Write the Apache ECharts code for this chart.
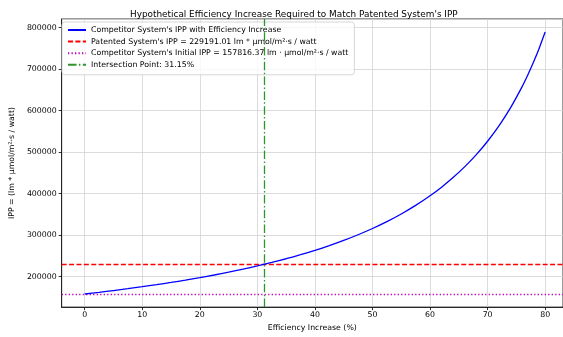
<!DOCTYPE html>
<html>
<head>
<meta charset="utf-8">
<script src="https://cdn.jsdelivr.net/npm/echarts@6/dist/echarts.min.js"></script>
<style>
  html, body { margin: 0; padding: 0; background: #fff; }
  #chart { width: 563px; height: 337px; }
</style>
</head>
<body>
<div id="chart"></div>
<script>
// efficiency increase (%) and the competitor IPP
const efficiency = [0, 2.5, 5, 7.5, 10, 12.5, 15, 17.5, 20, 22.5, 25, 27.5, 30, 32.5, 35, 37.5, 40, 42.5, 45, 47.5, 50, 52.5, 55, 57.5, 60, 62, 64, 66, 68, 70, 72, 74, 76, 77, 78, 79, 80]
const competitorIPP = [157816, 161863, 166123, 170612, 175352, 180362, 185666, 191293, 197270, 203634, 210422, 217678, 225452, 233802, 242794, 252506, 263027, 274463, 286939, 300603, 315633, 332245, 350703, 371333, 394541, 415306, 438379, 464166, 493176, 526055, 563630, 606986, 657568, 686158, 717347, 751507, 789082]
const patentedIPP = 229191.01
const initialIPP = 157816.37
const intersection = 31.15

const font = 'DejaVu Sans'
const chart = echarts.init(document.getElementById('chart'))

const option = {
  animation: false,
  textStyle: { fontFamily: font },
  title: {
    text: "Hypothetical Efficiency Increase Required to Match Patented System's IPP",
    left: 125,
    top: 5,
    textStyle: { fontFamily: font, fontSize: 8.9, fontWeight: 'normal', color: '#000' }
  },
  legend: {
    orient: 'vertical',
    left: 62,
    top: 22,
    padding: [4, 6, 6, 5],
    itemWidth: 18,
    itemHeight: 8,
    itemGap: 3.6,
    itemStyle: { opacity: 0 },
    backgroundColor: 'rgba(255,255,255,0.8)',
    borderColor: '#d6d6d6',
    borderWidth: 1,
    borderRadius: 3,
    textStyle: { fontFamily: font, fontSize: 7.8, color: '#000' },
    data: [
      "Competitor System's IPP with Efficiency Increase",
      "Patented System's IPP = 229191.01 lm * μmol/m²·s / watt",
      "Competitor System's Initial IPP = 157816.37 lm · μmol/m²·s / watt",
      'Intersection Point: 31.15%'
    ]
  },
  grid: { left: 60, right: 0, top: 19, bottom: 29, show: true, borderColor: '#000', borderWidth: 0.8 },
  xAxis: {
    type: 'value',
    min: -4,
    max: 83.1,
    minInterval: 10,
    maxInterval: 10,
    name: 'Efficiency Increase (%)',
    nameLocation: 'middle',
    nameGap: 15,
    nameTextStyle: { fontFamily: font, fontSize: 7.8, color: '#000' },
    axisLine: { onZero: false, lineStyle: { color: '#000', width: 0.8 } },
    axisTick: { show: true, length: 3, lineStyle: { color: '#000', width: 0.8 } },
    axisLabel: { fontFamily: font, fontSize: 7.8, color: '#000', margin: 4, showMinLabel: false, showMaxLabel: false },
    splitLine: { show: true, lineStyle: { color: '#d3d3d3', width: 0.8 } }
  },
  yAxis: {
    type: 'value',
    min: 126253,
    max: 820645,
    minInterval: 100000,
    maxInterval: 100000,
    name: 'IPP = (lm * μmol/m²·s / watt)',
    nameLocation: 'middle',
    nameGap: 38,
    nameTextStyle: { fontFamily: font, fontSize: 7.8, color: '#000' },
    axisLine: { show: true, onZero: false, lineStyle: { color: '#000', width: 0.8 } },
    axisTick: { show: true, length: 3, lineStyle: { color: '#000', width: 0.8 } },
    axisLabel: {
      fontFamily: font, fontSize: 7.8, color: '#000', margin: 5,
      showMinLabel: false, showMaxLabel: false,
      formatter: v => String(Math.round(v))
    },
    splitLine: { show: true, lineStyle: { color: '#d3d3d3', width: 0.8 } }
  },
  series: [
    {
      name: "Competitor System's IPP with Efficiency Increase",
      type: 'line',
      data: efficiency.map((x, i) => [x, competitorIPP[i]]),
      symbol: 'none',
      smooth: 0.2,
      lineStyle: { color: '#0000ff', width: 1.3 },
      itemStyle: { color: '#0000ff' },
      z: 5
    },
    {
      name: "Patented System's IPP = 229191.01 lm * μmol/m²·s / watt",
      type: 'line',
      data: [],
      symbol: 'none',
      lineStyle: { color: '#ff0000', width: 1.3, type: [5, 2.4] },
      itemStyle: { color: '#ff0000' },
      markLine: {
        silent: true,
        symbol: 'none',
        label: { show: false },
        lineStyle: { color: '#ff0000', width: 1.3, type: [5, 2.4] },
        data: [{ yAxis: patentedIPP }]
      }
    },
    {
      name: "Competitor System's Initial IPP = 157816.37 lm · μmol/m²·s / watt",
      type: 'line',
      data: [],
      symbol: 'none',
      lineStyle: { color: '#bf00bf', width: 1.3, type: [1.3, 2.2] },
      itemStyle: { color: '#bf00bf' },
      markLine: {
        silent: true,
        symbol: 'none',
        label: { show: false },
        lineStyle: { color: '#bf00bf', width: 1.3, type: [1.3, 2.2] },
        data: [{ yAxis: initialIPP }]
      }
    },
    {
      name: 'Intersection Point: 31.15%',
      type: 'line',
      data: [],
      symbol: 'none',
      lineStyle: { color: '#2e942e', width: 1.3, type: [8.5, 2.4, 1.5, 2.4] },
      itemStyle: { color: '#2e942e' },
      markLine: {
        silent: true,
        symbol: 'none',
        label: { show: false },
        lineStyle: { color: '#2e942e', width: 1.3, type: [8.5, 2.4, 1.5, 2.4] },
        data: [{ xAxis: intersection }]
      }
    }
  ]
}

chart.setOption(option)
</script>
</body>
</html>
